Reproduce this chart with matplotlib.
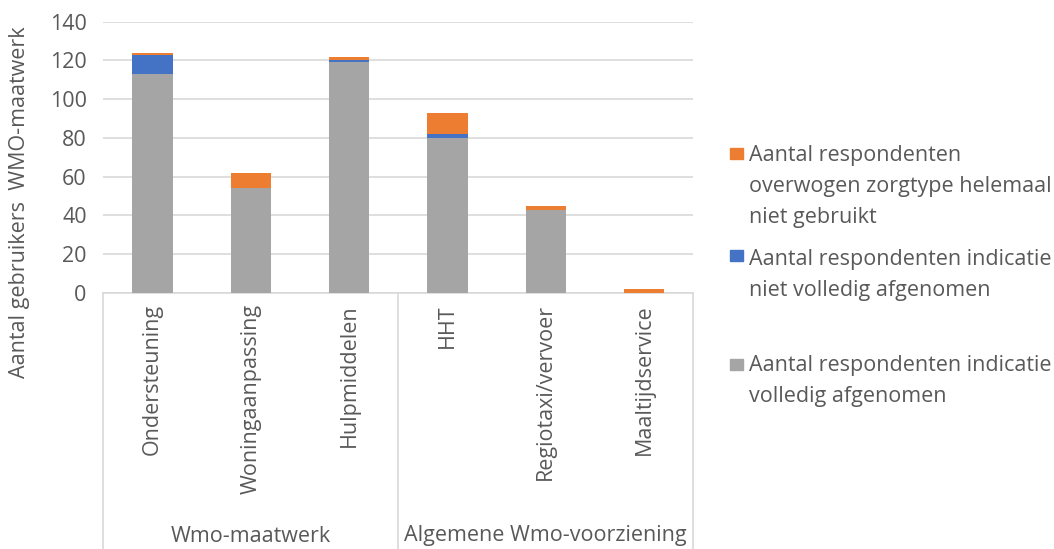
import matplotlib
matplotlib.use('Agg')
import matplotlib.pyplot as plt
import matplotlib.transforms as mtransforms
from matplotlib.patches import Rectangle

plt.rcParams['font.family'] = ['Open Sans', 'DejaVu Sans']

## Data
categories = ['Ondersteuning', 'Woningaanpassing', 'Hulpmiddelen',
              'HHT', 'Regiotaxi/vervoer', 'Maaltijdservice']
groups = ['Wmo-maatwerk', 'Algemene Wmo-voorziening']
group_sizes = [3, 3]
volledig = [113, 54, 119, 80, 43, 0]
niet_volledig = [10, 0, 1, 2, 0, 0]
niet_gebruikt = [1, 8, 2, 11, 2, 2]
series_labels = ['Aantal respondenten\noverwogen zorgtype helemaal\nniet gebruikt',
                 'Aantal respondenten indicatie\nniet volledig afgenomen',
                 'Aantal respondenten indicatie\nvolledig afgenomen']
yticks = [0, 20, 40, 60, 80, 100, 120, 140]

c_orange = '#ED7D31'
c_blue = '#4472C4'
c_gray = '#A5A5A5'
txt = '#595959'
fs = 15.5

W, H = 1054, 549
fig = plt.figure(figsize=(W / 100, H / 100), dpi=100)
ax = fig.add_axes([103.3 / W, 1 - 293 / H, (693.3 - 103.3) / W, (293 - 21.7) / H])

x = list(range(len(categories)))
bw = 0.41
b1 = ax.bar(x, volledig, bw, color=c_gray, zorder=3)
bottom2 = volledig
b2 = ax.bar(x, niet_volledig, bw, bottom=bottom2, color=c_blue, zorder=3)
bottom3 = [a + b for a, b in zip(volledig, niet_volledig)]
b3 = ax.bar(x, niet_gebruikt, bw, bottom=bottom3, color=c_orange, zorder=3)

ax.set_xlim(-0.5, len(categories) - 0.5)
ax.set_ylim(0, 140)
ax.set_yticks(yticks)
ax.yaxis.grid(True, color='#D9D9D9', linewidth=1.2)
ax.set_axisbelow(True)
for s in ['top', 'right', 'left']:
    ax.spines[s].set_visible(False)
ax.spines['bottom'].set_color('#D9D9D9')
ax.spines['bottom'].set_linewidth(1.2)
ax.tick_params(axis='y', length=0, labelsize=fs, labelcolor=txt, pad=12)
ax.tick_params(axis='x', length=0, labelsize=fs, labelcolor=txt, pad=8)
ax.set_xticks(x)
ax.set_xticklabels(categories, rotation=90, va='top', ha='center')

# group axis: dividers and group labels below the category labels
trans = mtransforms.blended_transform_factory(ax.transData, fig.transFigure)
edges = [-0.5]
for n in group_sizes:
    edges.append(edges[-1] + n)
for e in edges:
    ax.plot([e, e], [1 - 293 / H, 0], transform=trans, color='#D9D9D9',
            linewidth=1.2, clip_on=False)
for i, g in enumerate(groups):
    mid = (edges[i] + edges[i + 1]) / 2
    ax.text(mid, 1 - 536 / H, g, transform=trans, ha='center', va='center',
            fontsize=fs, color=txt)

fig.text(20 / W, 1 - 202 / H, 'Aantal gebruikers  WMO-maatwerk', rotation=90,
         ha='center', va='center', fontsize=fs, color=txt)

# legend, Excel style (square centre, first-line baseline in pixels)
leg_colors = [c_orange, c_blue, c_gray]
sq_y = [153, 255.5, 364.5]
base_y = [161, 265, 371]
line_step = 31
for col, lab, sy, by in zip(leg_colors, series_labels, sq_y, base_y):
    fig.add_artist(Rectangle((730 / W, 1 - (sy + 5.5) / H), 13 / W, 11 / H,
                             transform=fig.transFigure, color=col))
    for k, line in enumerate(lab.split('\n')):
        fig.text(749 / W, 1 - (by + k * line_step) / H, line, ha='left',
                 va='baseline', fontsize=fs, color=txt)

fig.savefig('out.png', dpi=100)
